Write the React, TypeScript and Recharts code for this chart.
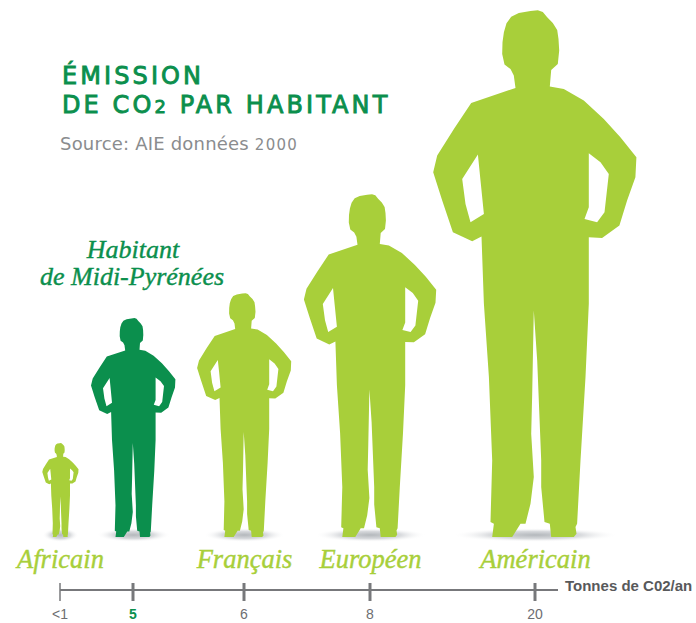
import { BarChart, Bar, XAxis, YAxis, Cell, LabelList } from 'recharts';

const GREEN = '#a8cf3a';
const DARK_GREEN = '#0b8f4d';
const AXIS_GREY = '#77787b';

const people = ['Africain', '', 'Français', 'Européen', 'Américain'];
const emissions = ['<1', '5', '6', '8', '20'];
// where each stop sits along the (non linear) tonnes axis
const axisStops = [0, 73, 184, 310, 475];
const figureHeights = [94, 219, 244, 343, 527];
const figureColors = [GREEN, DARK_GREEN, GREEN, GREEN, GREEN];

const chartData = people.map((name, i) => ({
  name,
  stop: axisStops[i],
  height: figureHeights[i],
  emission: emissions[i],
}));

// Person outline, traced once and scaled to each bar. Units: arbitrary, 1582 tall.
const BODY: number[][] = [
  [285, 262], [280, 225], [270, 205], [252, 192], [245, 160], [246, 125], [250, 95], [258, 68], [272, 48],
  [295, 37], [330, 31], [352, 29], [367, 34], [380, 50], [397, 67], [410, 88], [414, 115], [416, 150], [412, 190],
  [392, 208], [388, 258], [430, 265], [490, 300], [550, 355],
  [600, 410], [648, 470], [645, 530], [620, 600], [597, 675], [545, 712], [505, 710],
  [505, 910], [495, 1130], [480, 1380], [470, 1570], [465, 1580], [468, 1600], [460, 1610], [392, 1610],
  [388, 1570], [372, 1565], [362, 1460], [362, 1380], [350, 1080], [340, 930], [335, 1180], [332, 1300],
  [340, 1430], [330, 1510], [315, 1570], [300, 1570], [275, 1610], [215, 1610], [220, 1570], [210, 1565],
  [215, 1380], [205, 1130], [190, 910], [183, 708], [155, 722], [97, 695], [65, 600], [38, 515], [50, 465],
  [100, 385], [152, 307],
];
const LEFT_GAP: number[][] = [[172, 462], [125, 535], [135, 610], [150, 665], [190, 640], [180, 540]];
const RIGHT_GAP: number[][] = [[505, 458], [540, 485], [565, 520], [552, 635], [530, 665], [492, 655], [505, 620]];
const OUTLINE_H = 1582;
const OUTLINE_CX = 345;
const OUTLINE_TOP = 28;

function Person(props: any) {
  const { x, y, width, height, fill, index } = props;
  const cx = x + width / 2;
  const s = height / OUTLINE_H;
  const toPath = (pts: number[][]) =>
    'M' + pts.map(([px, py]) => `${(cx + (px - OUTLINE_CX) * s).toFixed(1)},${(y + (py - OUTLINE_TOP) * s).toFixed(1)}`).join('L') + 'Z';
  return (
    <g>
      <defs>
        <radialGradient id={`floor-${index}`}>
          <stop offset="0%" stopColor="#b4b8bc" />
          <stop offset="55%" stopColor="#d9dbde" />
          <stop offset="100%" stopColor="#ffffff" stopOpacity={0} />
        </radialGradient>
      </defs>
      <ellipse cx={cx} cy={y + height - 2} rx={height * 0.15 + 4} ry={7} fill={`url(#floor-${index})`} />
      <path d={toPath(BODY) + toPath(LEFT_GAP) + toPath(RIGHT_GAP)} fill={fill} fillRule="evenodd" />
    </g>
  );
}

function StopTick(props: any) {
  const { x, y, index } = props;
  const isHome = emissions[index] === '5';
  return (
    <g>
      <line x1={x} x2={x} y1={y - 9} y2={y + 9} stroke={AXIS_GREY} strokeWidth={index === 0 ? 1.5 : 3} />
      <text
        x={x}
        y={y + 27}
        textAnchor="middle"
        fontFamily="'Liberation Sans', sans-serif"
        fontWeight={isHome ? 700 : 400}
        fontSize={14}
        fill={isHome ? DARK_GREEN : '#6d6e71'}
      >
        {emissions[index]}
      </text>
    </g>
  );
}

function NameLabel(props: any) {
  const { x, y, width, height, value } = props;
  if (!value) return null;
  return (
    <text
      x={x + width / 2}
      y={y + height + 31}
      textAnchor="middle"
      fontFamily="'Liberation Serif', serif"
      fontStyle="italic"
      fontSize={26.5}
      fill={GREEN}
      stroke={GREEN}
      strokeWidth={0.4}
    >
      {value}
    </text>
  );
}

const titleFont = { fontFamily: "'DejaVu Sans', sans-serif", fontSize: 24, letterSpacing: 3.1, fill: DARK_GREEN, stroke: DARK_GREEN, strokeWidth: 0.9 };
const calloutFont = { fontFamily: "'Liberation Serif', serif", fontStyle: 'italic', fontSize: 26, fill: DARK_GREEN, stroke: DARK_GREEN, strokeWidth: 0.4 };

export default function App() {
  return (
    <div style={{ position: 'absolute', left: 0, top: 0, width: 696, height: 623, background: '#fff' }}>
      <BarChart
        width={696}
        height={623}
        data={chartData}
        margin={{ top: 10, right: 138, bottom: 0, left: 60 }}
      >
        <XAxis
          type="number"
          dataKey="stop"
          domain={[0, 498]}
          ticks={axisStops}
          interval={0}
          height={33}
          tickSize={0}
          axisLine={{ stroke: AXIS_GREY, strokeWidth: 2 }}
          tickLine={false}
          tick={<StopTick />}
        />
        <YAxis hide domain={[-53, 527]} />
        <Bar dataKey="height" barSize={10} isAnimationActive={false} shape={<Person />}>
          {chartData.map((d, i) => (
            <Cell key={d.stop} fill={figureColors[i]} />
          ))}
          <LabelList dataKey="name" content={<NameLabel />} />
        </Bar>
        <text x={62} y={84} {...titleFont}>
          ÉMISSION
        </text>
        <text x={62} y={113} {...titleFont}>
          DE CO<tspan fontSize={18}>2</tspan> PAR HABITANT
        </text>
        <text x={60} y={150} fontFamily="'DejaVu Sans', sans-serif" fontSize={18} letterSpacing={0.2} fill="#8a8c8e">
          Source: AIE données <tspan fontSize={15} letterSpacing={1.3}>2000</tspan>
        </text>
        <text x={133} y={258} textAnchor="middle" {...calloutFont}>
          Habitant
        </text>
        <text x={132} y={285} textAnchor="middle" {...calloutFont}>
          de Midi-Pyrénées
        </text>
        <text x={565} y={591} fontFamily="'Liberation Sans', sans-serif" fontWeight={700} fontSize={15} fill="#58595b">
          Tonnes de C02/an
        </text>
      </BarChart>
    </div>
  );
}
